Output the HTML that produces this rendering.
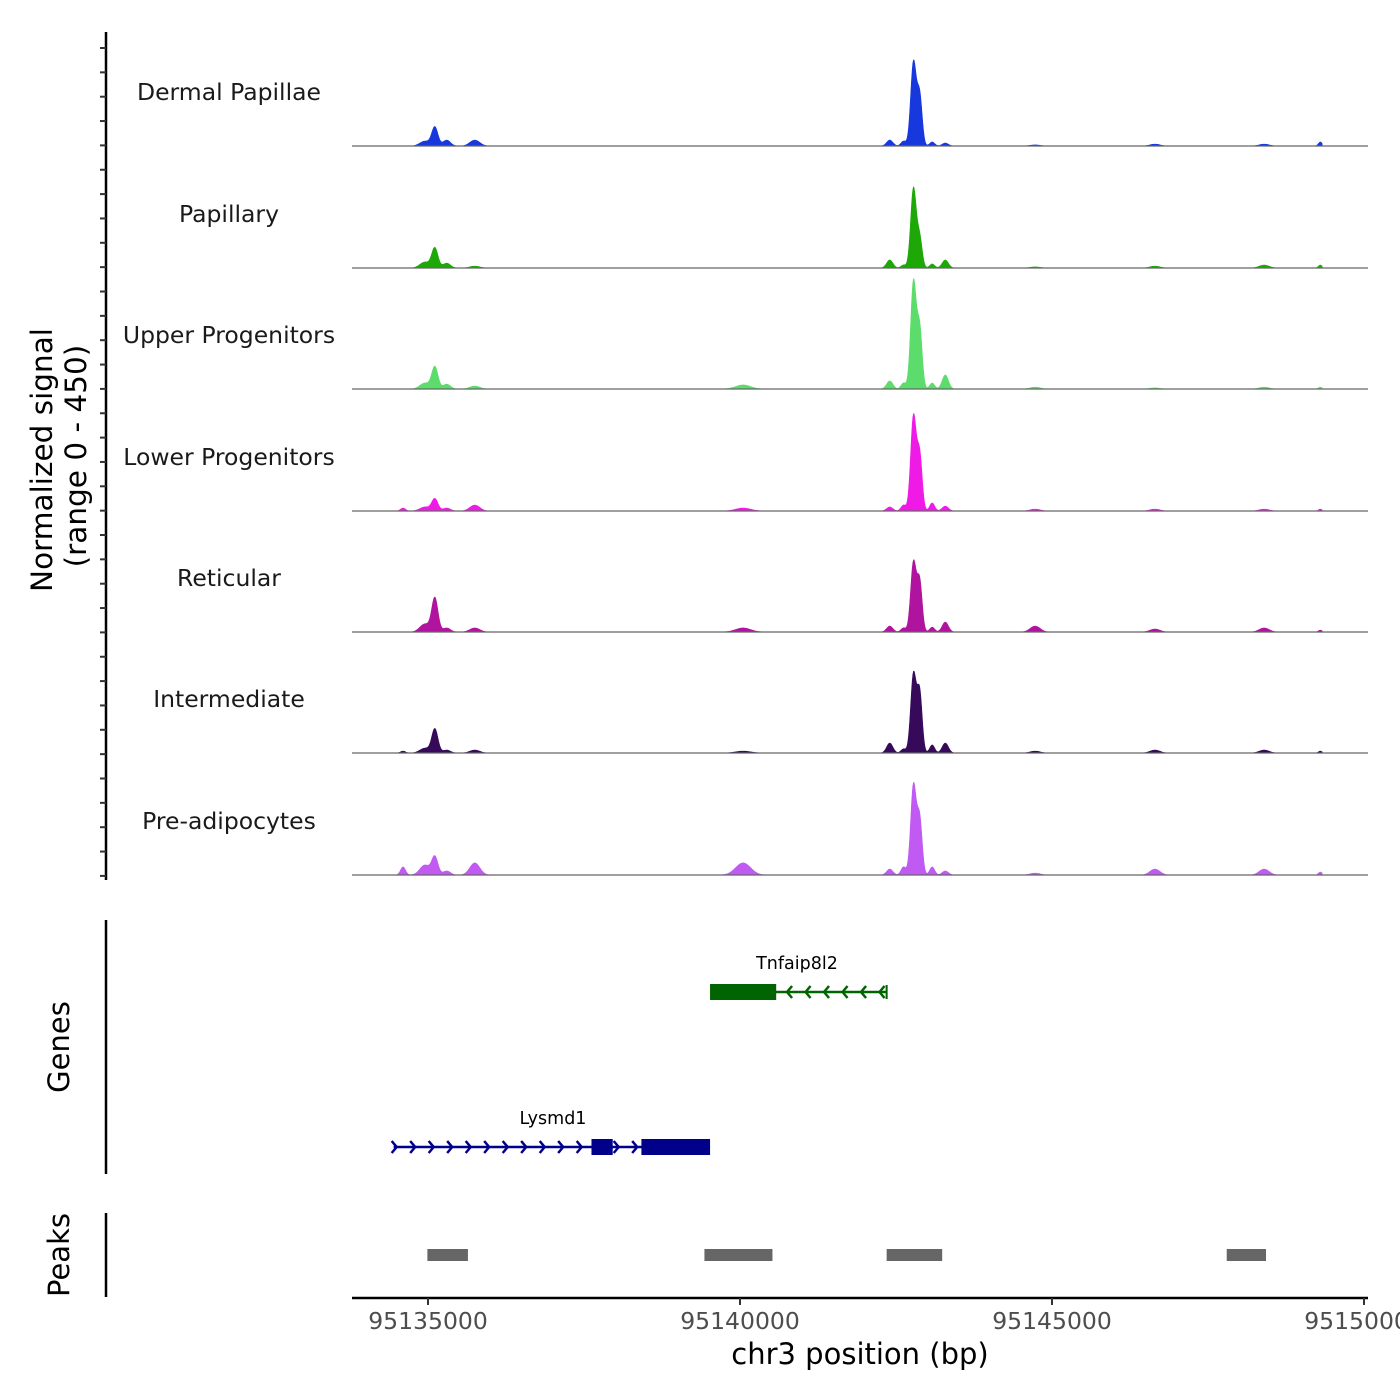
<!DOCTYPE html>
<html><head><meta charset="utf-8"><style>
html,body{margin:0;padding:0;background:#fff;}
svg{display:block;font-family:"DejaVu Sans","Liberation Sans",sans-serif;}
</style></head><body>
<svg id="chart" width="1400" height="1400" viewBox="0 0 1400 1400">
<g id="yaxis"></g>
<text transform="translate(52,460) rotate(-90)" text-anchor="middle" font-size="29.5" fill="#000">Normalized signal</text>
<text transform="translate(86,456) rotate(-90)" text-anchor="middle" font-size="29.5" fill="#000">(range 0 - 450)</text>
<g id="tracks"></g>
<line x1="106" y1="920" x2="106" y2="1174" stroke="#000" stroke-width="2.5"/>
<text transform="translate(69,1047) rotate(-90)" text-anchor="middle" font-size="29">Genes</text>
<g id="genes"></g>
<line x1="106" y1="1213" x2="106" y2="1297" stroke="#000" stroke-width="2.5"/>
<text transform="translate(69,1255) rotate(-90)" text-anchor="middle" font-size="29">Peaks</text>
<g id="peaks"></g>
<g id="xaxis"></g>
<text x="860" y="1364" text-anchor="middle" font-size="29">chr3 position (bp)</text>
</svg>
<script>
const trackNames = ["Dermal Papillae","Papillary","Upper Progenitors","Lower Progenitors","Reticular","Intermediate","Pre-adipocytes"];
const trackColors = ["#1638dc","#1ea808","#5cdc6a","#f01ae6","#b0149e","#36095a","#c05af2"];
const peakCenters = [95134600,95134950,95135110,95135300,95135750,95140050,95142400,95142620,95142780,95142880,95143080,95143290,95144730,95146650,95148400,95149300];
const peakWidths = [40,80,50,60,80,120,50,40,45,40,40,50,80,80,80,30];
const heightsDP  = [0,18,70,22,22,0,22,18,312,185,15,11,4,7,7,15];
const heightsPap = [0,22,74,18,7,0,30,11,297,110,15,30,4,7,11,11];
const heightsUP  = [0,22,82,18,11,15,30,22,400,220,22,52,7,4,7,7];
const heightsLP  = [11,15,45,11,22,11,15,22,353,205,30,18,7,7,7,7];
const heightsRet = [0,30,126,15,15,15,22,15,260,185,18,37,22,11,15,7];
const heightsInt = [7,18,89,11,11,7,37,15,294,222,30,37,7,11,11,7];
const heightsPA  = [30,37,67,15,45,45,22,30,335,205,30,15,7,22,22,11];
const trackHeights = [heightsDP,heightsPap,heightsUP,heightsLP,heightsRet,heightsInt,heightsPA];
const xTicks = [95135000,95140000,95145000,95150000];
const xTickLabels = ["95135000","95140000","95145000","95150000"];
const geneNames = ["Tnfaip8l2","Lysmd1"];
const geneStarts = [95139520,95134450];
const geneEnds = [95142350,95139520];
const geneStrands = [-1,1];
const exonStarts = [[95139520],[95137620,95138420]];
const exonEnds = [[95140580],[95137960,95139520]];
const peakStarts = [95134990,95139430,95142350,95147800];
const peakEnds = [95135640,95140520,95143240,95148430];

const NS="http://www.w3.org/2000/svg";
function mk(t,a,p){const e=document.createElementNS(NS,t);for(const k in a)e.setAttribute(k,a[k]);p.appendChild(e);return e;}
const x = bp => 428 + (bp-95135000)*312/5000;
const baselines=[146,268,389,511,632,753,875];
const yScale = v => v*0.269;

const ya=document.getElementById('yaxis');
const yl=mk('line',{x1:106,y1:32,x2:106,y2:880,stroke:'#000','stroke-width':2.5},ya);


for(let y=48;y<=880;y+=24.35){
  const t=mk('line',{x1:100,y1:y,x2:106,y2:y,stroke:'#333','stroke-width':2},ya);
  
  
}

const tg=document.getElementById('tracks');
trackNames.forEach((nm,i)=>{
  const b=baselines[i];
  const g=mk('g',{},tg);
  
  
  const lab=mk('text',{x:229,y:b-46,'text-anchor':'middle','font-size':23.5,fill:'#1a1a1a'},g);
  lab.textContent=nm;
  
  
  const hs=trackHeights[i];
  let d='M'+x(95134250)+','+b;
  for(let bp=95134250;bp<=95149330;bp+=10){
    let v=0;
    for(let k=0;k<peakCenters.length;k++){const z=(bp-peakCenters[k])/peakWidths[k];v+=hs[k]*Math.exp(-0.5*z*z);}
    d+=' L'+x(bp).toFixed(2)+','+(b-yScale(v)).toFixed(2);
  }
  d+=' L'+x(95149330)+','+b+' Z';
  const a=mk('path',{d:d,fill:trackColors[i],stroke:trackColors[i],'stroke-width':0.6},g);
  
  
  const bl=mk('line',{x1:352,y1:b,x2:1368,y2:b,stroke:'#666','stroke-width':1.2},g);
  
  
});

const gg=document.getElementById('genes');
const geneY=[992,1147], geneCol=['#006400','#00008b'];
geneNames.forEach((nm,i)=>{
  const y=geneY[i],c=geneCol[i];
  const g=mk('g',{},gg);
  
  
  const x1=x(geneStarts[i]),x2=x(geneEnds[i]);
  mk('line',{x1:x1,y1:y,x2:x2,y2:y,stroke:c,'stroke-width':2.5},g);
  exonStarts[i].forEach((s,k)=>{
    mk('rect',{x:x(s),y:y-8,width:x(exonEnds[i][k])-x(s),height:16,fill:c},g);
  });
  for(let ax=x1+3;ax<x2-2;ax+=18.5){
    let inside=exonStarts[i].some((s,k)=>ax>x(s)-3&&ax<x(exonEnds[i][k])+3);
    if(inside)continue;
    const dir=geneStrands[i];
    mk('polyline',{points:`${ax-5*dir},${y-6} ${ax},${y} ${ax-5*dir},${y+6}`,fill:'none',stroke:c,'stroke-width':2.5},g);
  }
  if(geneStrands[i]<0) mk('line',{x1:x2,y1:y-7,x2:x2,y2:y+7,stroke:c,'stroke-width':2},g);
  const lab=mk('text',{x:(i==0?797:553),y:y-23,'text-anchor':'middle','font-size':17.5,fill:'#000'},g);
  lab.textContent=nm;
  
  
});

const pg=document.getElementById('peaks');
peakStarts.forEach((s,i)=>{
  const r=mk('rect',{x:x(s),y:1249,width:x(peakEnds[i])-x(s),height:12,fill:'#666'},pg);
  
  
});

const xa=document.getElementById('xaxis');
const xl=mk('line',{x1:352,y1:1298,x2:1368,y2:1298,stroke:'#000','stroke-width':2.5},xa);


xTicks.forEach((t,i)=>{
  const px=x(t);
  const tk=mk('line',{x1:px,y1:1298,x2:px,y2:1305,stroke:'#333','stroke-width':2},xa);
  
  
  const lb=mk('text',{x:px,y:1329,'text-anchor':'middle','font-size':23.5,fill:'#4d4d4d'},xa);
  lb.textContent=xTickLabels[i];
  
  
});
</script>
</body></html>
